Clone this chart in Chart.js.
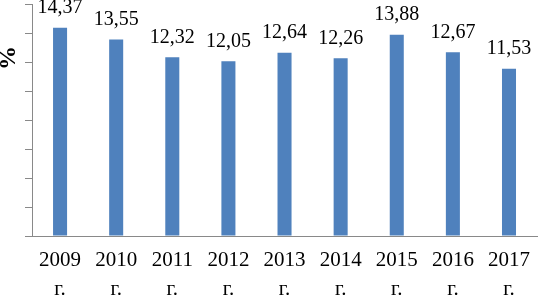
<!DOCTYPE html>
<html>
<head>
<meta charset="utf-8">
<script src="https://cdn.jsdelivr.net/npm/chart.js@4/dist/chart.umd.min.js"></script>
<style>
html,body{margin:0;padding:0;background:#fff;overflow:hidden;}
canvas{display:block;}
</style>
</head>
<body>
<canvas id="c" width="540" height="295"></canvas>
<script>
const years = ["2009","2010","2011","2012","2013","2014","2015","2016","2017"];
const suffix = "г.";
const values = [14.37, 13.55, 12.32, 12.05, 12.64, 12.26, 13.88, 12.67, 11.53];
const valueLabels = ["14,37","13,55","12,32","12,05","12,64","12,26","13,88","12,67","11,53"];
const yTitle = "%";

const categories = years.map(y => [y, suffix]);
const axisGray = "#898989";
const serif = "'Liberation Serif', 'Times New Roman', serif";

const labelPlugin = {
  id: 'valueLabels',
  afterDatasetsDraw(chart) {
    const ctx = chart.ctx;
    const meta = chart.getDatasetMeta(0);
    ctx.save();
    ctx.font = "20px " + serif;
    ctx.fillStyle = "#000";
    ctx.textAlign = "center";
    ctx.textBaseline = "alphabetic";
    meta.data.forEach((bar, i) => {
      ctx.fillText(valueLabels[i], bar.x, bar.y - 14.5);
    });
    ctx.restore();
  }
};

const titlePlugin = {
  id: 'yTitle',
  afterDraw(chart) {
    const ctx = chart.ctx;
    ctx.save();
    ctx.font = "bold 24px " + serif;
    ctx.fillStyle = "#000";
    ctx.textAlign = "center";
    ctx.textBaseline = "middle";
    ctx.translate(9, 58);
    ctx.rotate(-Math.PI / 2);
    ctx.fillText(yTitle, 0, 0);
    ctx.restore();
  }
};

new Chart(document.getElementById('c'), {
  type: 'bar',
  data: {
    labels: categories,
    datasets: [{
      data: values,
      backgroundColor: '#4F81BD',
      borderWidth: 0,
      barPercentage: 0.25,
      categoryPercentage: 1
    }]
  },
  options: {
    responsive: false,
    animation: false,
    layout: { padding: { top: 4, right: 0, left: 0, bottom: 0 } },
    plugins: { legend: { display: false }, tooltip: { enabled: false } },
    scales: {
      x: {
        grid: { display: false, drawTicks: false },
        border: { display: true, color: axisGray, width: 1 },
        ticks: {
          color: '#000',
          font: { family: serif, size: 21, lineHeight: 1.38 },
          padding: 10,
          maxRotation: 0,
          autoSkip: false
        },
        afterFit(scale) { scale.height = 59; }
      },
      y: {
        min: 0,
        max: 16,
        ticks: { display: false, stepSize: 2 },
        grid: { drawOnChartArea: false, drawTicks: true, tickLength: 7, color: axisGray },
        border: { display: true, color: axisGray, width: 1 },
        afterFit(scale) { scale.width = 32; }
      }
    }
  },
  plugins: [labelPlugin, titlePlugin]
});
</script>
</body>
</html>
